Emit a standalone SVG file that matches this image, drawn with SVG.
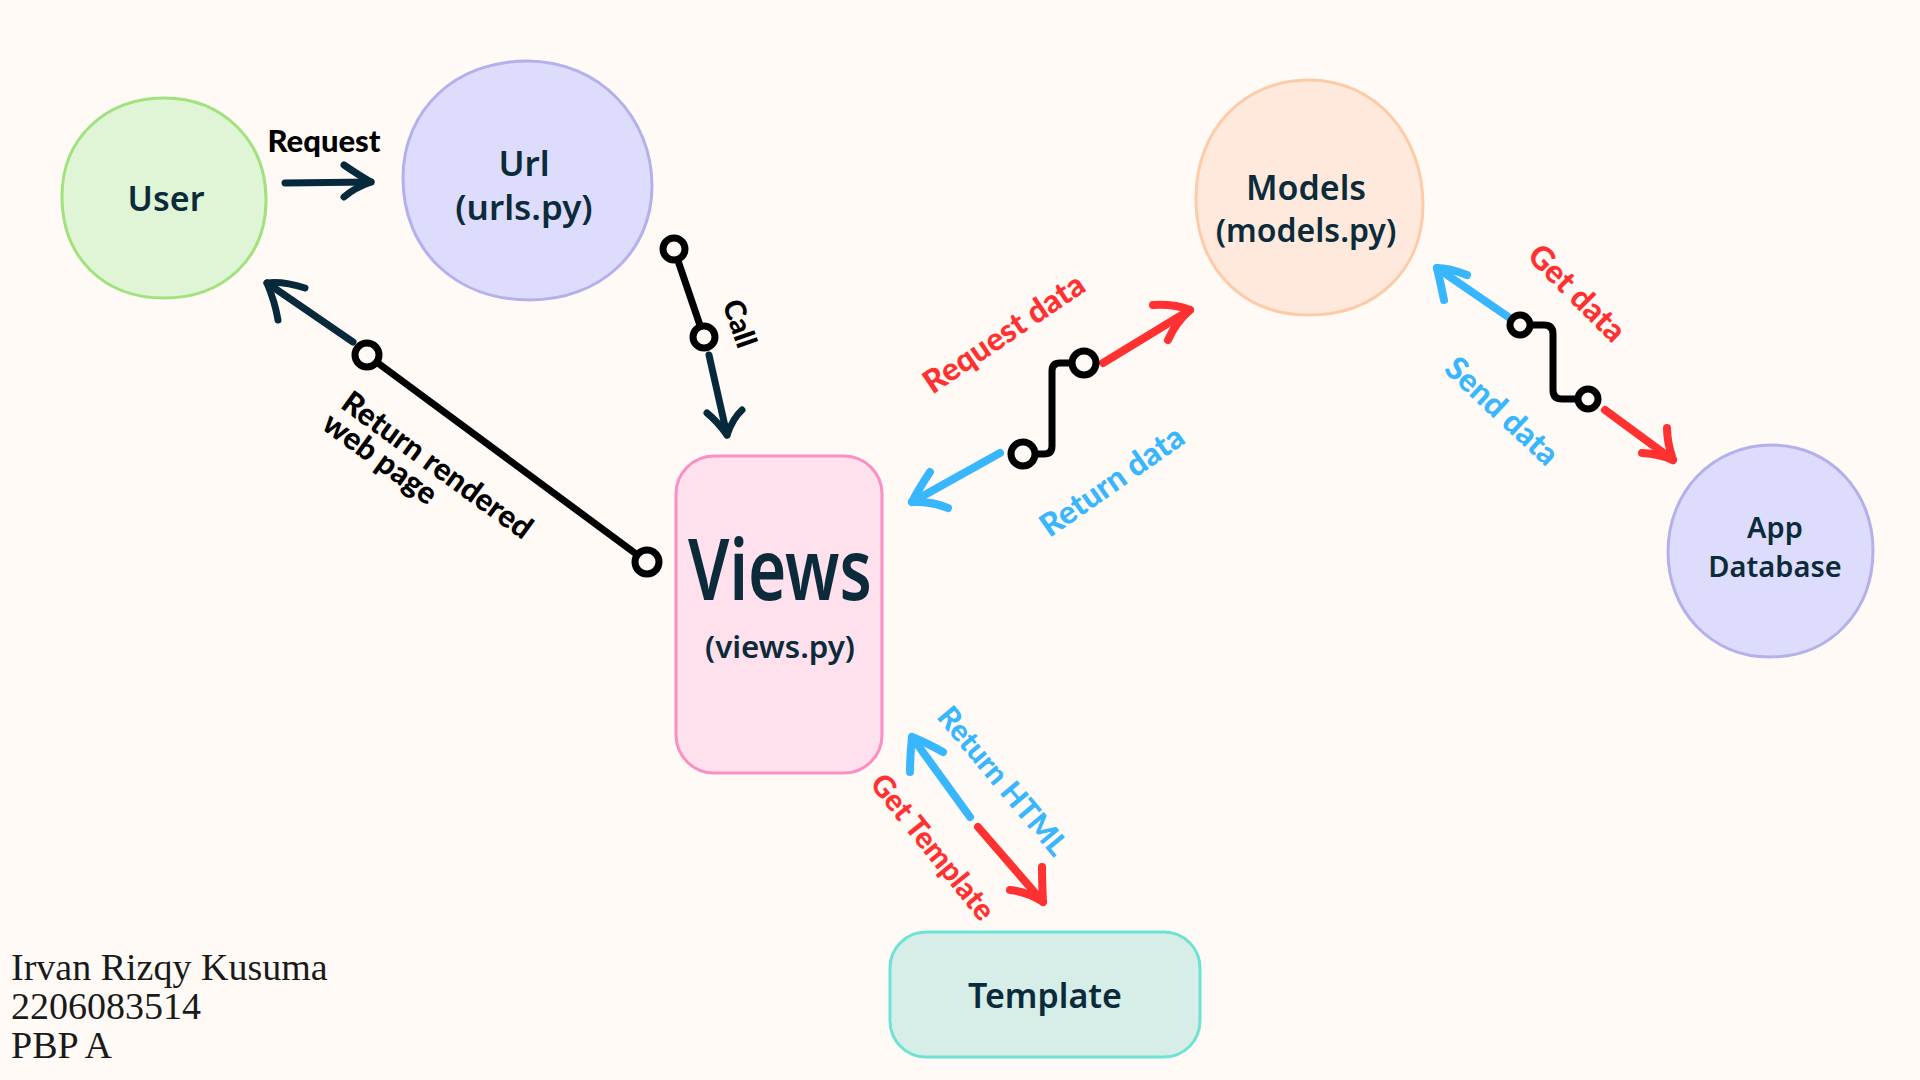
<svg xmlns="http://www.w3.org/2000/svg" width="1920" height="1080" viewBox="0 0 1920 1080">
<style>
.node-t{font-family:"Noto Sans","Open Sans",sans-serif;font-weight:600;fill:#0b2b3b;text-anchor:middle}
.lbl{font-family:"Lato","Noto Sans",sans-serif;font-weight:900;text-anchor:middle;dominant-baseline:central}
.blk{fill:#000}
.red{fill:#ff3131}
.blue{fill:#38b6ff}
.line{fill:none;stroke:#000;stroke-width:7;stroke-linecap:round;stroke-linejoin:round}
.nav{fill:none;stroke:#062a3b;stroke-width:7;stroke-linecap:round;stroke-linejoin:round}
.ra{fill:none;stroke:#ff3131;stroke-width:8;stroke-linecap:round;stroke-linejoin:round}
.ba{fill:none;stroke:#38b6ff;stroke-width:8;stroke-linecap:round;stroke-linejoin:round}
.dot{fill:#fffaf6;stroke:#000;stroke-width:7}
.sig{font-family:"Liberation Serif",serif;font-size:38px;fill:#1a1a1a}
</style>
<rect width="1920" height="1080" fill="#fffaf6"/>

<g id="user">
<path d="M164,98 C222,98 266,140 266,200 C266,258 224,298 164,298 C104,298 62,258 62,196 C62,138 106,98 164,98 Z" fill="#e0f5d6" stroke="#a0e27d" stroke-width="3"/>
<text class="node-t" x="166" y="211" font-size="34">User</text>
</g>

<g id="url">
<path d="M527,61 C600,61 652,118 652,186 C652,252 600,300 530,300 C455,300 403,250 403,178 C403,110 455,61 527,61 Z" fill="#dedcfd" stroke="#b4b0ec" stroke-width="3"/>
<text class="node-t" x="524" y="176" font-size="35">Url</text>
<text class="node-t" x="524" y="220" font-size="35">(urls.py)</text>
</g>

<g id="views">
<rect x="676" y="456" width="206" height="317" rx="38" fill="#ffe1ee" stroke="#fb8fc4" stroke-width="3"/>
<text class="node-t" x="780" y="600" font-size="84" textLength="184" lengthAdjust="spacingAndGlyphs">Views</text>
<text class="node-t" x="780" y="658" font-size="30" font-weight="500" textLength="150" lengthAdjust="spacingAndGlyphs">(views.py)</text>
</g>

<g id="models">
<path d="M1309,80 C1375,80 1423,135 1423,205 C1423,268 1378,315 1309,315 C1240,315 1196,266 1196,198 C1196,130 1243,80 1309,80 Z" fill="#fee9dc" stroke="#fecba9" stroke-width="3"/>
<text class="node-t" x="1306" y="200" font-size="34">Models</text>
<text class="node-t" x="1306" y="242" font-size="32">(models.py)</text>
</g>

<g id="app-database">
<path d="M1772,445 C1830,445 1873,492 1873,550 C1873,612 1830,657 1770,657 C1710,657 1668,610 1668,552 C1668,492 1712,445 1772,445 Z" fill="#dedcfd" stroke="#b4b0ec" stroke-width="3"/>
<text class="node-t" x="1775" y="538" font-size="29">App</text>
<text class="node-t" x="1775" y="577" font-size="29">Database</text>
</g>

<g id="template">
<rect x="890" y="932" width="310" height="125" rx="36" fill="#d6ede8" stroke="#6fe3d3" stroke-width="3"/>
<text class="node-t" x="1045" y="1008" font-size="34">Template</text>
</g>

<g id="connectors">
<!-- Request -->
<path class="nav" d="M285,183 L371,182"/>
<path class="nav" d="M344,165 Q360,176 371,182 Q354,188 344,197"/>
<!-- Call -->
<path class="line" d="M674,249 L704,337"/>
<path class="nav" d="M709,355 L727,435"/>
<path class="nav" d="M707,413 Q718,422 727,435 Q733,418 742,410"/>
<!-- Return rendered web page -->
<path class="line" d="M367,355 L647,562"/>
<path class="nav" d="M353,342 L267,283"/>
<path class="nav" d="M305,288 Q283,281 267,283 Q275,302 278,320"/>
<!-- Request / Return data -->
<path class="line" d="M1023,454 L1044,454 Q1052,454 1052,446 L1052,371 Q1052,363 1060,363 L1084,363"/>
<path class="ra" d="M1103,363 L1190,310"/>
<path class="ra" d="M1153,305 Q1175,304 1190,310 Q1176,322 1168,340"/>
<path class="ba" d="M1000,453 L912,502"/>
<path class="ba" d="M930,472 Q918,490 912,502 Q930,501 948,508"/>
<!-- Get / Send data -->
<path class="line" d="M1520,325 L1544,325 Q1553,325 1553,334 L1553,390 Q1553,399 1562,399 L1588,399"/>
<path class="ba" d="M1520,325 L1437,268"/>
<path class="ba" d="M1467,275 Q1449,268 1437,268 Q1441,285 1444,300"/>
<path class="ra" d="M1605,410 L1673,460"/>
<path class="ra" d="M1642,453 Q1660,454 1673,460 Q1667,442 1667,428"/>
<!-- Template -->
<path class="ba" d="M970,817 L912,737"/>
<path class="ba" d="M943,752 Q925,742 912,737 Q910,756 910,772"/>
<path class="ra" d="M978,827 L1043,902"/>
<path class="ra" d="M1010,890 Q1028,892 1043,902 Q1042,882 1042,867"/>
<!-- endpoint dots -->
<circle class="dot" cx="674" cy="249" r="11"/>
<circle class="dot" cx="704" cy="337" r="11"/>
<circle class="dot" cx="367" cy="355" r="12"/>
<circle class="dot" cx="647" cy="562" r="12"/>
<circle class="dot" cx="1023" cy="454" r="12"/>
<circle class="dot" cx="1084" cy="363" r="12"/>
<circle class="dot" cx="1520" cy="325" r="10"/>
<circle class="dot" cx="1588" cy="399" r="10"/>
<!-- labels -->
<text class="lbl blk" x="324" y="140" font-size="31">Request</text>
<text class="lbl blk" font-size="29" transform="translate(741,323) rotate(71)">Call</text>
<g transform="translate(438,464) rotate(36)">
<text class="lbl blk" x="0" y="0" font-size="31">Return rendered</text>
<text class="lbl blk" x="-50" y="28" font-size="31">web page</text>
</g>
<text class="lbl red" font-size="32" transform="translate(1003,332) rotate(-34)">Request data</text>
<text class="lbl blue" font-size="32" transform="translate(1111,480) rotate(-35)">Return data</text>
<text class="lbl red" font-size="32" transform="translate(1578,292) rotate(45)">Get data</text>
<text class="lbl blue" font-size="32" transform="translate(1503,410) rotate(43)">Send data</text>
<text class="lbl blue" font-size="30" transform="translate(1004,780) rotate(50)">Return HTML</text>
<text class="lbl red" font-size="30" transform="translate(934,846) rotate(51)">Get Template</text>
</g>

<g id="signature">
<text class="sig" x="11" y="980">Irvan Rizqy Kusuma</text>
<text class="sig" x="11" y="1019">2206083514</text>
<text class="sig" x="11" y="1058">PBP A</text>
</g>
</svg>
